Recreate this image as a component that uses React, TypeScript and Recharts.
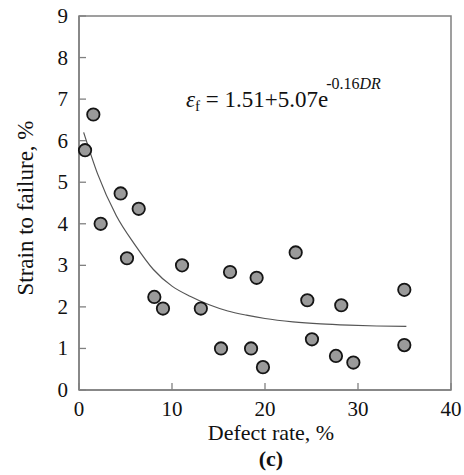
import React from 'react';
import { ScatterChart, Scatter, XAxis, YAxis, ReferenceArea } from 'recharts';

// measured points (defect rate %, strain to failure %)
const defectRate = [0.65, 1.54, 2.33, 4.48, 5.16, 6.42, 8.1, 9.03, 11.08, 13.1, 15.27, 16.24, 18.5, 19.1, 19.78, 23.3, 24.55, 25.05, 27.63, 28.2, 29.5, 34.98, 34.98];
const strain = [5.77, 6.63, 4.0, 4.73, 3.17, 4.36, 2.24, 1.96, 3.0, 1.96, 1.0, 2.84, 1.0, 2.7, 0.55, 3.31, 2.16, 1.22, 0.82, 2.04, 0.66, 2.41, 1.08];

// fitted curve
const fitX = [0.5, 2, 4, 6, 8, 10, 12, 14, 16, 18, 20, 23, 26, 29, 32, 35.2];
const fitY = [6.2, 5.2, 4.2, 3.5, 2.9, 2.5, 2.25, 2.05, 1.9, 1.8, 1.72, 1.64, 1.59, 1.56, 1.54, 1.53];

const xTicks = [0, 10, 20, 30, 40];
const yTicks = [0, 1, 2, 3, 4, 5, 6, 7, 8, 9];

const points = defectRate.map((x, i) => ({ x, y: strain[i] }));
const fit = fitX.map((x, i) => ({ x, y: fitY[i] }));

const serif = { fontFamily: "'Liberation Serif', 'Times New Roman', serif" };
const AXIS = '#808080';

const XTick = (props: any) => {
  const { x, y, payload } = props;
  return (
    <g>
      <line x1={x} y1={y} x2={x} y2={y - 7} stroke={AXIS} strokeWidth={1.3} />
      <text x={x} y={y + 26} textAnchor="middle" style={serif} fontSize={21} fill="#111">
        {payload.value}
      </text>
    </g>
  );
};

const YTick = (props: any) => {
  const { x, y, payload } = props;
  return (
    <g>
      <line x1={x} y1={y} x2={x + 7} y2={y} stroke={AXIS} strokeWidth={1.3} />
      <text x={x - 11} y={y + 7} textAnchor="end" style={serif} fontSize={21} fill="#111">
        {payload.value}
      </text>
    </g>
  );
};

const Dot = (props: any) => {
  const { cx, cy } = props;
  return <circle cx={cx} cy={cy} r={6.2} fill="#9a9a9a" stroke="#151515" strokeWidth={1.8} />;
};

const App: React.FC = () => {
  return (
    <div style={{ position: 'absolute', left: 0, top: 0, width: 464, height: 475, background: '#fff' }}>
      <ScatterChart width={464} height={475} margin={{ top: 16, right: 13, bottom: 0, left: 0 }}>
        <XAxis
          dataKey="x"
          type="number"
          domain={[0, 40]}
          ticks={xTicks}
          height={85}
          tickSize={0}
          tickMargin={0}
          tickLine={false}
          tick={<XTick />}
          axisLine={{ stroke: AXIS, strokeWidth: 1.5 }}
        />
        <YAxis
          dataKey="y"
          type="number"
          domain={[0, 9]}
          ticks={yTicks}
          width={79}
          tickSize={0}
          tickMargin={0}
          tickLine={false}
          tick={<YTick />}
          axisLine={{ stroke: AXIS, strokeWidth: 1.5 }}
        />
        <ReferenceArea x1={0} x2={40} y1={0} y2={9} fill="none" stroke={AXIS} strokeWidth={1.5} />
        <Scatter
          data={fit}
          line={{ stroke: '#555', strokeWidth: 1.2 }}
          lineJointType="monotoneX"
          shape={() => null}
          isAnimationActive={false}
        />
        <Scatter data={points} shape={<Dot />} isAnimationActive={false} />
        <text x={186} y={107} style={serif} fontSize={23} fill="#111">
          <tspan fontStyle="italic">ε</tspan>
          <tspan fontSize={15} dy={4}>f</tspan>
          <tspan dy={-4}> = 1.51+5.07e</tspan>
          <tspan fontSize={16} dx={-2} dy={-18}>-0.16</tspan>
          <tspan fontSize={16} fontStyle="italic">DR</tspan>
        </text>
        <text
          x={25}
          y={208}
          transform="rotate(-90 25 208)"
          textAnchor="middle"
          dominantBaseline="central"
          style={serif}
          fontSize={23}
          fill="#111"
        >
          Strain to failure, %
        </text>
        <text x={271} y={440} textAnchor="middle" style={serif} fontSize={22} fill="#111">
          Defect rate, %
        </text>
        <text x={271} y={466} textAnchor="middle" style={serif} fontSize={22} fontWeight="bold" fill="#111">
          (c)
        </text>
      </ScatterChart>
    </div>
  );
};

export default App;
